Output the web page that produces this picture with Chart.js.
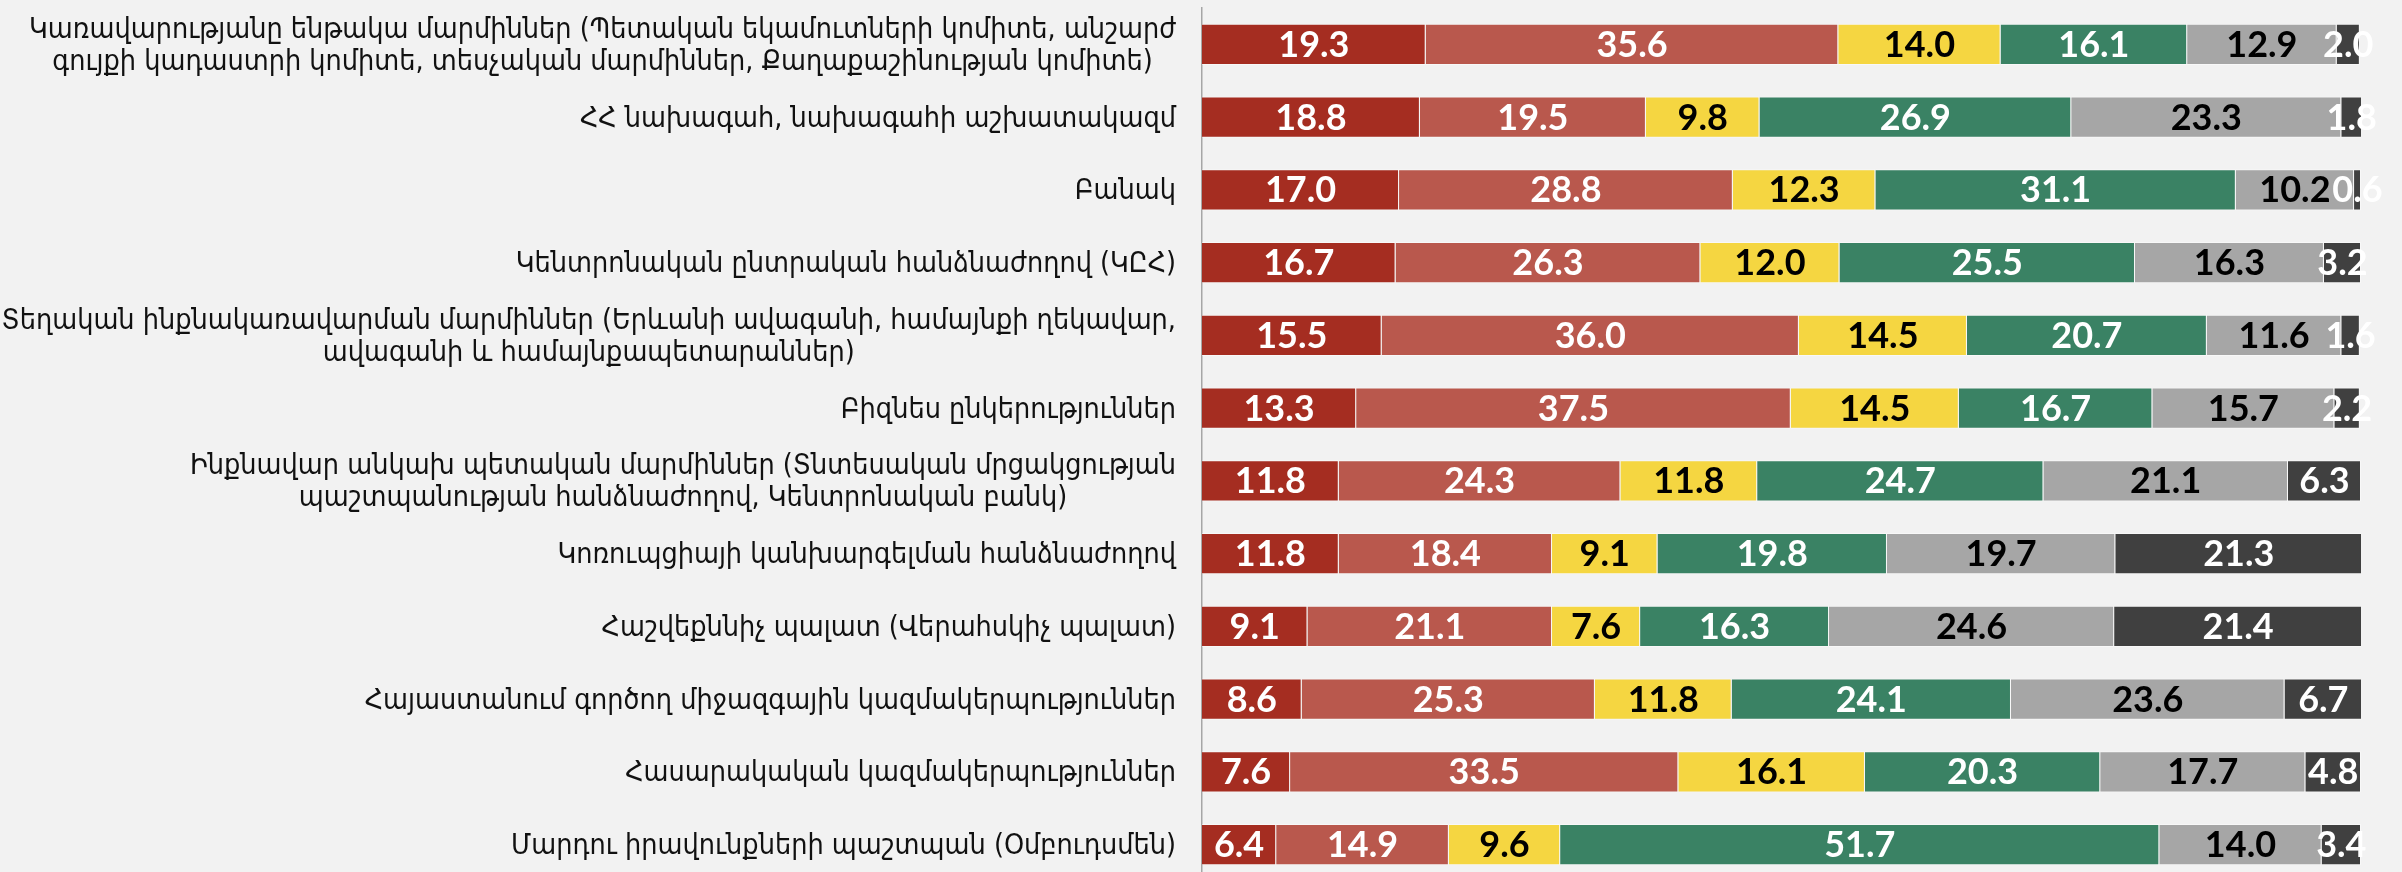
<!DOCTYPE html>
<html>
<head>
<meta charset="utf-8">
<script src="https://cdn.jsdelivr.net/npm/chart.js@4"></script>
<style>
  html, body { margin: 0; padding: 0; background: #f2f2f2; overflow: hidden; }
  #wrap { width: 2402px; height: 882px; position: relative; }
</style>
</head>
<body>
<div id="wrap"><canvas id="myChart"></canvas></div>
<script>
'use strict';

// category labels, lines split where the picture wraps them
let categories = [
  ['Կառավարությանը ենթակա մարմիններ (Պետական եկամուտների կոմիտե, անշարժ', 'գույքի կադաստրի կոմիտե, տեսչական մարմիններ, Քաղաքաշինության կոմիտե)'],
  ['ՀՀ նախագահ, նախագահի աշխատակազմ'],
  ['Բանակ'],
  ['Կենտրոնական ընտրական հանձնաժողով (ԿԸՀ)'],
  ['Տեղական ինքնակառավարման մարմիններ (Երևանի ավագանի, համայնքի ղեկավար,', 'ավագանի և համայնքապետարաններ)'],
  ['Բիզնես ընկերություններ'],
  ['Ինքնավար անկախ պետական մարմիններ (Տնտեսական մրցակցության', 'պաշտպանության հանձնաժողով, Կենտրոնական բանկ)'],
  ['Կոռուպցիայի կանխարգելման հանձնաժողով'],
  ['Հաշվեքննիչ պալատ (Վերահսկիչ պալատ)'],
  ['Հայաստանում գործող միջազգային կազմակերպություններ'],
  ['Հասարակական կազմակերպություններ'],
  ['Մարդու իրավունքների պաշտպան (Օմբուդսմեն)']
];

let series1 = [19.3, 18.8, 17.0, 16.7, 15.5, 13.3, 11.8, 11.8, 9.1, 8.6, 7.6, 6.4];
let series2 = [35.6, 19.5, 28.8, 26.3, 36.0, 37.5, 24.3, 18.4, 21.1, 25.3, 33.5, 14.9];
let series3 = [14.0, 9.8, 12.3, 12.0, 14.5, 14.5, 11.8, 9.1, 7.6, 11.8, 16.1, 9.6];
let series4 = [16.1, 26.9, 31.1, 25.5, 20.7, 16.7, 24.7, 19.8, 16.3, 24.1, 20.3, 51.7];
let series5 = [12.9, 23.3, 10.2, 16.3, 11.6, 15.7, 21.1, 19.7, 24.6, 23.6, 17.7, 14.0];
let series6 = [2.0, 1.8, 0.6, 3.2, 1.6, 2.2, 6.3, 21.3, 21.4, 6.7, 4.8, 3.4];

let seriesColors = ['#a52d21', '#b9584d', '#f5d641', '#3a8264', '#a6a6a6', '#404040'];
let labelColors = ['#ffffff', '#ffffff', '#000000', '#ffffff', '#000000', '#ffffff'];

let allSeries = [series1, series2, series3, series4, series5, series6];

let datasets = [];
for (let i = 0; i < allSeries.length; i++) {
  datasets.push({
    label: 'series' + (i + 1),
    data: allSeries[i],
    backgroundColor: seriesColors[i],
    borderColor: 'rgba(255,255,255,0.45)',
    borderWidth: 1,
    barPercentage: 0.564,
    categoryPercentage: 1
  });
}

// value labels in the middle of each segment
let valueLabels = {
  id: 'valueLabels',
  afterDatasetsDraw(chart) {
    let ctx = chart.ctx;
    ctx.save();
    ctx.font = 'bold 36px Lato';
    ctx.textAlign = 'center';
    ctx.textBaseline = 'middle';
    chart.data.datasets.forEach((ds, i) => {
      let meta = chart.getDatasetMeta(i);
      ctx.fillStyle = labelColors[i];
      meta.data.forEach((bar, j) => {
        let x = (bar.x + bar.base) / 2;
        ctx.fillText(ds.data[j].toFixed(1), x, bar.y + 1);
      });
    });
    ctx.restore();
  }
};

// category labels: block right-aligned, lines centred inside the block
let categoryLabels = {
  id: 'categoryLabels',
  afterDraw(chart) {
    let ctx = chart.ctx;
    let yScale = chart.scales.y;
    let right = chart.chartArea.left - 26;
    let lineHeight = 32;
    ctx.save();
    ctx.font = '28.5px "DejaVu Sans Condensed"';
    ctx.fillStyle = '#111111';
    ctx.textAlign = 'center';
    ctx.textBaseline = 'middle';
    categories.forEach((lines, i) => {
      let yc = yScale.getPixelForTick(i) + 2;
      let w = Math.max(...lines.map(l => ctx.measureText(l).width));
      let cx = right - w / 2;
      lines.forEach((l, k) => {
        ctx.fillText(l, cx, yc + (k - (lines.length - 1) / 2) * lineHeight);
      });
    });
    ctx.restore();
  }
};

let ctx = document.getElementById('myChart');

let config = {
  type: 'bar',
  data: {
    labels: categories.map(c => c.join(' ')),
    datasets: datasets
  },
  options: {
    indexAxis: 'y',
    responsive: false,
    animation: false,
    layout: {
      padding: { top: 8, bottom: 1, left: 0, right: 41 }
    },
    plugins: {
      legend: { display: false },
      tooltip: { enabled: false }
    },
    scales: {
      x: {
        stacked: true,
        min: 0,
        max: 100,
        display: false
      },
      y: {
        stacked: true,
        grid: { display: false },
        border: { display: true, color: '#a6a6a6', width: 1.5 },
        ticks: { display: false },
        afterFit(scale) {
          scale.width = 1202;
        }
      }
    }
  },
  plugins: [valueLabels, categoryLabels]
};

ctx.width = 2402;
ctx.height = 882;
new Chart(ctx, config);
</script>
</body>
</html>
